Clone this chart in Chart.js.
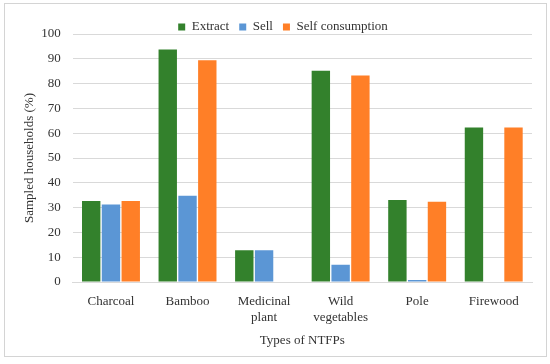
<!DOCTYPE html>
<html>
<head>
<meta charset="utf-8">
<script src="https://cdn.jsdelivr.net/npm/chart.js@4/dist/chart.umd.min.js"></script>
<style>
  html, body { margin: 0; padding: 0; background: #fff; }
  #wrap { width: 550px; height: 364px; position: relative; }
</style>
</head>
<body>
<div id="wrap"><canvas id="chart" width="550" height="364"></canvas></div>
<script>
// data
const categories = ["Charcoal", "Bamboo", ["Medicinal", "plant"], ["Wild", "vegetables"], "Pole", "Firewood"];
const extractValues = [32.7, 93.7, 12.8, 85.2, 33.1, 62.3];
const sellValues = [31.3, 34.8, 12.8, 7.0, 0.8, 0];
const selfConsumptionValues = [32.7, 89.4, 0, 83.3, 32.4, 62.3];
const yTicks = [0, 10, 20, 30, 40, 50, 60, 70, 80, 90, 100];

const FONT = "'Liberation Serif', 'Times New Roman', serif";
const TEXT = "#333333";
const GRID = "#d9d9d9";
const TOP_PAD = 10.5;

// thin gray frame round the whole figure, plus legend tweaks
const framePlugin = {
  id: "frame",
  beforeLayout(chart) {
    const lg = chart.legend;
    if (lg && !lg._patched) {
      // keep legend short so the plot starts right under it
      const origFit = lg.fit.bind(lg);
      lg.fit = function () {
        origFit();
        this.height = 34 - TOP_PAD;
      };
      // legend sits a bit right of the canvas centre
      const origDraw = lg.draw.bind(lg);
      lg.draw = function () {
        const c = this.ctx;
        c.save();
        c.translate(9, 0);
        origDraw();
        c.restore();
      };
      lg._patched = true;
    }
  },
  afterDraw(chart) {
    const c = chart.ctx;
    c.save();
    c.strokeStyle = "#d4d4d4";
    c.lineWidth = 1;
    c.strokeRect(4.5, 3.5, 542, 353);
    c.restore();
  }
};

const ctx = document.getElementById("chart").getContext("2d");
new Chart(ctx, {
  type: "bar",
  data: {
    labels: categories,
    datasets: [
      { label: "Extract", data: extractValues, backgroundColor: "#33812c" },
      { label: "Sell", data: sellValues, backgroundColor: "#5b96d5" },
      { label: "Self consumption", data: selfConsumptionValues, backgroundColor: "#ff7f27" }
    ]
  },
  options: {
    responsive: false,
    animation: false,
    devicePixelRatio: 1,
    layout: { padding: { top: TOP_PAD, left: 16, right: 18, bottom: 10 } },
    datasets: {
      bar: { categoryPercentage: 0.775, barPercentage: 0.93 }
    },
    plugins: {
      tooltip: { enabled: false },
      legend: {
        position: "top",
        labels: {
          boxWidth: 7,
          boxHeight: 7,
          padding: 10,
          color: TEXT,
          font: { family: FONT, size: 13 }
        }
      }
    },
    scales: {
      x: {
        grid: { display: false },
        border: { display: true, color: GRID, width: 1 },
        ticks: {
          color: TEXT,
          padding: 4,
          maxRotation: 0,
          autoSkip: false,
          font: { family: FONT, size: 13 }
        },
        title: {
          display: true,
          text: "Types of NTFPs",
          color: TEXT,
          padding: { top: 4, bottom: 6 },
          font: { family: FONT, size: 13 }
        },
        afterFit(scale) { scale.height = 72; }
      },
      y: {
        min: 0,
        max: 100,
        afterBuildTicks(scale) { scale.ticks = yTicks.map(v => ({ value: v })); },
        grid: { color: GRID, lineWidth: 1, drawTicks: false },
        border: { display: false },
        ticks: {
          color: TEXT,
          padding: 12,
          font: { family: FONT, size: 13 }
        },
        title: {
          display: true,
          text: "Sampled households (%)",
          color: TEXT,
          padding: { top: 6, bottom: 0 },
          font: { family: FONT, size: 13 }
        },
        afterFit(scale) { scale.width = 56.7; }
      }
    }
  },
  plugins: [framePlugin]
});
</script>
</body>
</html>
